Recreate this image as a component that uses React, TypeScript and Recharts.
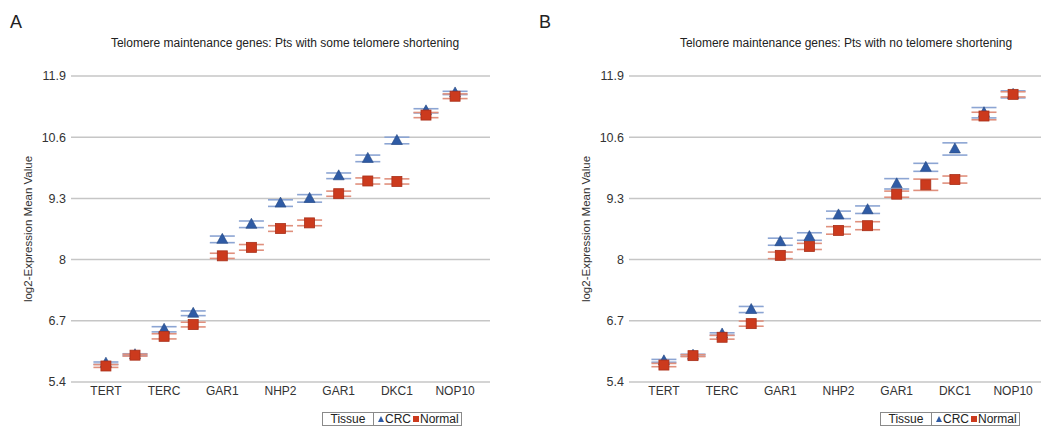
import React from 'react';
import { ScatterChart, Scatter, XAxis, YAxis, CartesianGrid, Legend } from 'recharts';

const geneIndex = [0, 1, 2, 3, 4, 5, 6, 7, 8, 9, 10, 11, 12];
const tickLabels = ['TERT', 'TERC', 'GAR1', 'NHP2', 'GAR1', 'DKC1', 'NOP10'];
const tickPositions = [0, 2, 4, 6, 8, 10, 12];
const yTicks = [5.4, 6.7, 8, 9.3, 10.6, 11.9];

// Panel A: Pts with some telomere shortening
const crcA = [5.8, 5.98, 6.52, 6.86, 8.43, 8.75, 9.2, 9.3, 9.78, 10.15, 10.53, 11.16, 11.54];
const crcErrA = [0.025, 0.02, 0.055, 0.05, 0.07, 0.07, 0.07, 0.08, 0.06, 0.07, 0.07, 0.045, 0.035];
const normalA = [5.74, 5.97, 6.37, 6.62, 8.08, 8.26, 8.66, 8.78, 9.4, 9.67, 9.66, 11.07, 11.47];
const normalErrA = [0.03, 0.02, 0.055, 0.05, 0.055, 0.06, 0.06, 0.06, 0.055, 0.065, 0.055, 0.055, 0.05];

// Panel B: Pts with no telomere shortening
const crcB = [5.85, 5.97, 6.42, 6.94, 8.38, 8.49, 8.95, 9.06, 9.61, 9.96, 10.35, 11.12, 11.51];
const crcErrB = [0.03, 0.02, 0.025, 0.065, 0.075, 0.08, 0.08, 0.08, 0.11, 0.085, 0.13, 0.11, 0.075];
const normalB = [5.76, 5.96, 6.35, 6.64, 8.09, 8.28, 8.62, 8.72, 9.39, 9.59, 9.7, 11.05, 11.51];
const normalErrB = [0.035, 0.02, 0.04, 0.055, 0.07, 0.065, 0.08, 0.085, 0.065, 0.12, 0.075, 0.08, 0.055];

const BLUE = '#2f5ba5';
const BLUE_LIGHT = '#8ca5d3';
const RED = '#cc3a1d';
const RED_DARK = '#a8301a';
const RED_LIGHT = '#e0907d';
const FONT = '"Liberation Sans", Arial, sans-serif';

const toPoints = (vals: number[]) => geneIndex.map((x, i) => ({ x, y: vals[i] }));
const toWhiskers = (vals: number[], errs: number[]) =>
  geneIndex.flatMap((x, i) => [
    { x, y: vals[i] + errs[i] },
    { x, y: vals[i] - errs[i] },
  ]);

const whisker = (color: string) => (props: any) => {
  const { cx, cy } = props;
  if (cx == null || cy == null) return <g />;
  return <line x1={cx - 12.5} x2={cx + 12.5} y1={cy} y2={cy} stroke={color} strokeWidth={1.6} />;
};

const triangle = (props: any) => {
  const { cx, cy } = props;
  if (cx == null || cy == null) return <g />;
  return (
    <polygon
      points={`${cx},${cy - 6} ${cx + 5.5},${cy + 4} ${cx - 5.5},${cy + 4}`}
      fill={BLUE}
      stroke="#24477f"
      strokeWidth={0.6}
    />
  );
};

const square = (props: any) => {
  const { cx, cy } = props;
  if (cx == null || cy == null) return <g />;
  return <rect x={cx - 5} y={cy - 5} width={10} height={10} fill={RED} stroke={RED_DARK} strokeWidth={0.8} />;
};

const LegendBox = () => (
  <div
    style={{
      display: 'flex',
      border: '1px solid #8a8a8a',
      height: 12,
      fontSize: 12,
      lineHeight: '12px',
      fontFamily: FONT,
      color: '#222',
      background: '#fff',
      width: 138,
      boxSizing: 'content-box',
    }}
  >
    <div style={{ width: 50, textAlign: 'center', borderRight: '1px solid #8a8a8a' }}>Tissue</div>
    <div style={{ display: 'flex', alignItems: 'center', paddingLeft: 4 }}>
      <svg width={6} height={6} style={{ marginRight: 1 }}>
        <polygon points="3,0 6,6 0,6" fill={BLUE} />
      </svg>
      <span>CRC</span>
      <svg width={6} height={6} style={{ marginLeft: 2, marginRight: 1 }}>
        <rect x={0} y={0} width={6} height={6} fill={RED} />
      </svg>
      <span>Normal</span>
    </div>
  </div>
);

type PanelProps = {
  crc: number[];
  crcErr: number[];
  normal: number[];
  normalErr: number[];
};

const Panel = ({ crc, crcErr, normal, normalErr }: PanelProps) => (
  <ScatterChart width={520} height={427} margin={{ top: 76, right: 30, bottom: 15, left: 11 }}>
    <CartesianGrid horizontal vertical={false} stroke="#c6c6c6" strokeWidth={1.5} />
    <XAxis
      type="number"
      dataKey="x"
      domain={[-1.2, 13.2]}
      ticks={tickPositions}
      tickFormatter={(v: number) => tickLabels[Math.round(v / 2)]}
      axisLine={false}
      tickLine={false}
      tickSize={0}
      tickMargin={4}
      height={30}
      allowDataOverflow
      interval={0}
      tick={{ fontSize: 12, fill: '#333', fontFamily: FONT }}
    />
    <YAxis
      type="number"
      dataKey="y"
      domain={[5.4, 11.9]}
      ticks={yTicks}
      interval={0}
      axisLine={false}
      tickLine={false}
      tickSize={0}
      tickMargin={5}
      width={60}
      allowDataOverflow
      tick={{ fontSize: 12.5, fill: '#333', fontFamily: FONT }}
      label={{
        value: 'log2-Expression Mean Value',
        angle: -90,
        position: 'insideLeft',
        offset: 17,
        style: { textAnchor: 'middle', fontSize: 11.5, fill: '#333', fontFamily: FONT },
      }}
    />
    <Scatter name="CRC whiskers" data={toWhiskers(crc, crcErr)} shape={whisker(BLUE_LIGHT)} isAnimationActive={false} legendType="none" />
    <Scatter name="Normal whiskers" data={toWhiskers(normal, normalErr)} shape={whisker(RED_LIGHT)} isAnimationActive={false} legendType="none" />
    <Scatter name="CRC" data={toPoints(crc)} shape={triangle} isAnimationActive={false} />
    <Scatter name="Normal" data={toPoints(normal)} shape={square} isAnimationActive={false} />
    <Legend
      layout="horizontal"
      verticalAlign="middle"
      align="center"
      wrapperStyle={{ left: 322, top: 412, width: 140, height: 14 }}
      content={() => <LegendBox />}
    />
  </ScatterChart>
);

const textStyle: React.CSSProperties = {
  position: 'absolute',
  fontFamily: FONT,
  color: '#222',
  whiteSpace: 'nowrap',
};

export default function App() {
  return (
    <div
      style={{
        position: 'absolute',
        left: 0,
        top: 0,
        width: 1041,
        height: 427,
        overflow: 'hidden',
        background: '#fff',
        fontFamily: FONT,
      }}
    >
      <div style={{ position: 'absolute', left: 0, top: 0 }}>
        <Panel crc={crcA} crcErr={crcErrA} normal={normalA} normalErr={normalErrA} />
      </div>
      <div style={{ position: 'absolute', left: 558, top: 0 }}>
        <Panel crc={crcB} crcErr={crcErrB} normal={normalB} normalErr={normalErrB} />
      </div>
      <div style={{ ...textStyle, left: 10, top: 13, fontSize: 18, lineHeight: '18px' }}>A</div>
      <div style={{ ...textStyle, left: 539, top: 13, fontSize: 18, lineHeight: '18px' }}>B</div>
      <div style={{ ...textStyle, left: 35, width: 500, top: 35, textAlign: 'center', fontSize: 12, lineHeight: '16px' }}>
        Telomere maintenance genes: Pts with some telomere shortening
      </div>
      <div style={{ ...textStyle, left: 596, width: 500, top: 35, textAlign: 'center', fontSize: 12, lineHeight: '16px' }}>
        Telomere maintenance genes: Pts with no telomere shortening
      </div>
    </div>
  );
}
